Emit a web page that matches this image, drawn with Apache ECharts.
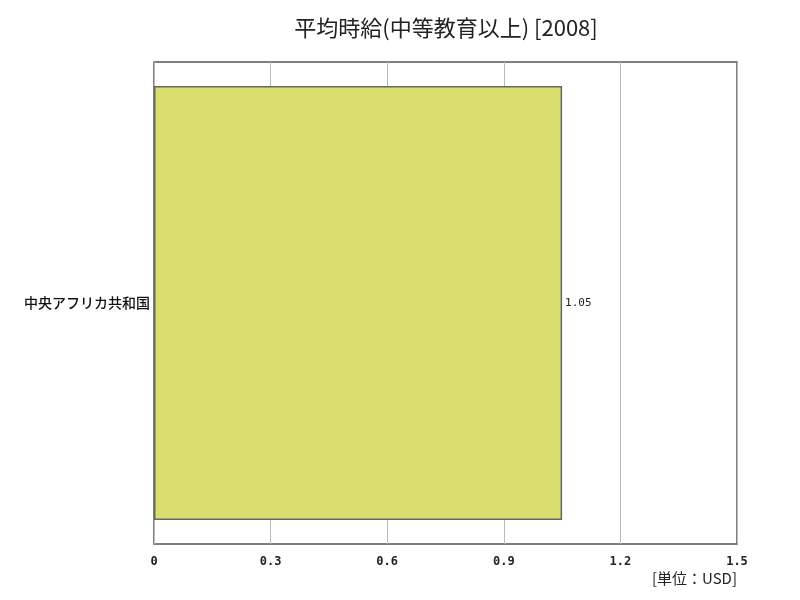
<!DOCTYPE html>
<html>
<head>
<meta charset="utf-8">
<script src="https://cdn.jsdelivr.net/npm/echarts@6/dist/echarts.min.js"></script>
<style>
  html, body { margin: 0; padding: 0; background: #fff; }
  #chart { width: 800px; height: 600px; }
</style>
</head>
<body>
<div id="chart"></div>
<script>
var titleText = '平均時給(中等教育以上) [2008]';
var unitText = '[単位：USD]';
var categories = ['中央アフリカ共和国'];
var values = [1.05];
var xTicks = [0, 0.3, 0.6, 0.9, 1.2, 1.5];

var myChart = echarts.init(document.getElementById('chart'));

var option = {
    backgroundColor: '#fff',
    animation: false,
    title: {
        text: titleText,
        left: 441,
        textAlign: 'center',
        top: 12,
        textStyle: {
            fontFamily: 'Noto Sans CJK JP',
            fontSize: 22,
            fontWeight: 'normal',
            color: '#222'
        }
    },
    grid: {
        left: 154,
        right: 63,
        top: 62,
        bottom: 56,
        show: true,
        borderColor: '#555',
        borderWidth: 1.5,
        backgroundColor: 'transparent'
    },
    xAxis: {
        type: 'value',
        min: xTicks[0],
        max: xTicks[xTicks.length - 1],
        interval: 0.3,
        axisLine: { show: false },
        axisTick: { show: false },
        splitLine: { show: true, lineStyle: { color: '#bbb', width: 1 } },
        axisLabel: {
            margin: 12,
            fontFamily: 'DejaVu Sans Mono',
            fontSize: 12,
            fontWeight: 'bold',
            color: '#222',
            formatter: function (v) {
                return String(Math.round(v * 10) / 10);
            }
        }
    },
    yAxis: {
        type: 'category',
        data: categories,
        axisLine: { show: false },
        axisTick: { show: false },
        axisLabel: {
            margin: 4,
            fontFamily: 'Noto Sans CJK JP',
            fontSize: 14,
            fontWeight: 500,
            color: '#111'
        }
    },
    series: [
        {
            type: 'bar',
            data: values,
            barWidth: '90%',
            itemStyle: {
                color: '#d8df6f',
                borderColor: '#666',
                borderWidth: 1.5
            },
            label: {
                show: true,
                position: 'right',
                distance: 3,
                fontFamily: 'DejaVu Sans Mono',
                fontSize: 11,
                color: '#222'
            }
        }
    ],
    graphic: [
        {
            type: 'text',
            right: 63,
            top: 571,
            style: {
                text: unitText,
                fontFamily: 'Noto Sans CJK JP',
                fontSize: 15,
                fill: '#222'
            }
        }
    ]
};

myChart.setOption(option);
</script>
</body>
</html>
